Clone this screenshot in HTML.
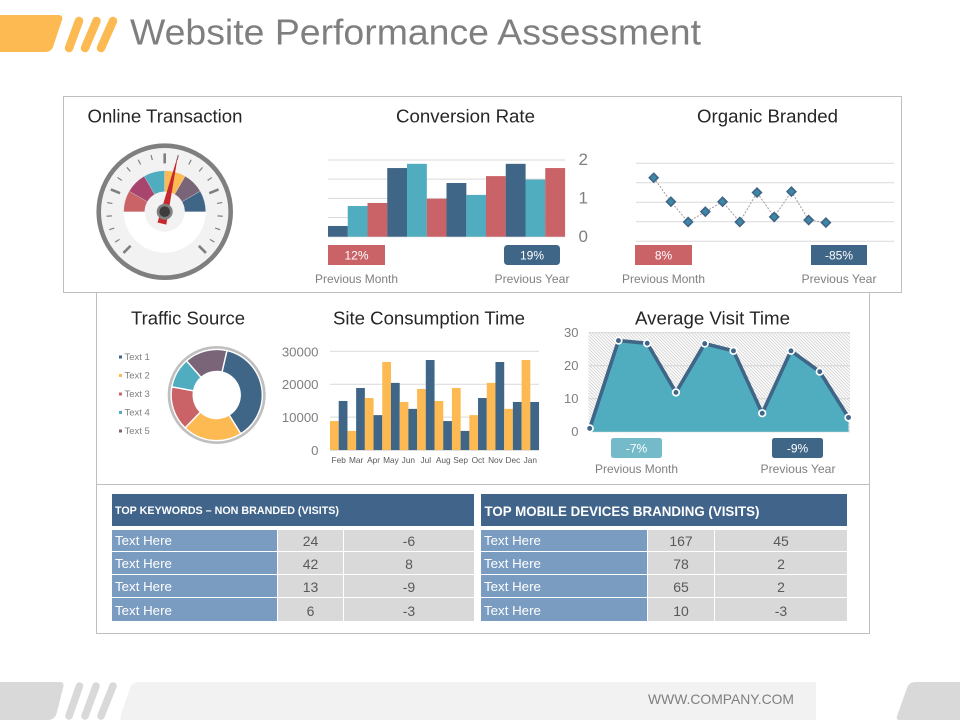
<!DOCTYPE html>
<html lang="en">
<head>
<meta charset="utf-8">
<title>Website Performance Assessment</title>
<style>
html,body{margin:0;padding:0;background:#fff;}
#page{position:relative;width:960px;height:720px;overflow:hidden;background:#fff;font-family:"Liberation Sans",sans-serif;}
#art{position:absolute;left:0;top:0;}
svg text{font-family:"Liberation Sans",sans-serif;}
table.tbl{position:absolute;top:530px;border-collapse:separate;border-spacing:0;table-layout:fixed;font-size:14px;}
table.tbl td{padding:0;background:#d9d9d9;color:#595959;text-align:center;vertical-align:top;border-right:1px solid #fff;border-bottom:1px solid #fff;box-sizing:border-box;line-height:20px;}
table.tbl td:last-child{border-right:0;}
table.tbl td.lab{background:#7a9cc0;color:#fff;text-align:left;padding-left:3px;font-size:13.3px;}
table.tbl tr.r1 td{padding-top:1px;}
table.tbl tr.r2 td,table.tbl tr.r3 td{padding-top:2px;}
table.tbl tr.r4 td{padding-top:3px;}
</style>
</head>
<body>
<div id="page">
<svg id="art" width="960" height="720" viewBox="0 0 960 720" xmlns="http://www.w3.org/2000/svg">
  <defs>
    <pattern id="hatch" width="3.2" height="3.2" patternUnits="userSpaceOnUse">
      <rect width="3.2" height="3.2" fill="#fff"/>
      <path d="M-1 -1L4.2 4.2M-1 2.2L1 4.2M2.2 -1L4.2 1" stroke="#c4c4c4" stroke-width="0.7"/>
    </pattern>
  </defs>

  <g>
    <path d="M0 15H58Q63.500 15 62 20L53 47Q51 52 45 52H0Z" fill="#fdb952"/>
    <g stroke="#fdb952" stroke-width="8.500" stroke-linecap="round">
      <line x1="79" y1="21" x2="69" y2="48"/>
      <line x1="96.500" y1="21" x2="85" y2="48"/>
      <line x1="113" y1="21" x2="101" y2="48"/>
    </g>
  </g>
  <text x="130" y="44.500" font-size="36" fill="#7f7f7f" textLength="571" lengthAdjust="spacingAndGlyphs">Website Performance Assessment</text>

  <rect x="96.500" y="292.500" width="773" height="341" fill="#fff" stroke="#bfbfbf"/>
  <rect x="63.500" y="96.500" width="838" height="196" fill="#fff" stroke="#bfbfbf"/>
  <line x1="97" y1="484.500" x2="869" y2="484.500" stroke="#bfbfbf"/>

  <g font-size="18" fill="#262626">
    <text x="87.500" y="122.500" textLength="155" lengthAdjust="spacingAndGlyphs">Online Transaction</text>
    <text x="396" y="122.500" textLength="139" lengthAdjust="spacingAndGlyphs">Conversion Rate</text>
    <text x="697" y="122.500" textLength="141" lengthAdjust="spacingAndGlyphs">Organic Branded</text>
    <text x="131" y="324.500" textLength="114" lengthAdjust="spacingAndGlyphs">Traffic Source</text>
    <text x="333" y="324.500" textLength="192" lengthAdjust="spacingAndGlyphs">Site Consumption Time</text>
    <text x="635" y="324.500" textLength="155" lengthAdjust="spacingAndGlyphs">Average Visit Time</text>
  </g>

  <g id="gauge"></g>
  <g id="conversion"></g>
  <g id="organic"></g>
  <g id="donut"></g>
  <g id="site"></g>
  <g id="area"></g>

  <g font-size="12" text-anchor="middle" fill="#fff">
    <rect x="328" y="245" width="57" height="20" fill="#c96368"/>
    <text x="356.500" y="259.500">12%</text>
    <rect x="504" y="245" width="56" height="20" rx="3.500" fill="#3f6587"/>
    <text x="532" y="259.500">19%</text>
    <rect x="635" y="245" width="57" height="20" fill="#c96368"/>
    <text x="663.500" y="259.500">8%</text>
    <rect x="811" y="245" width="56" height="20" fill="#3f6587"/>
    <text x="839" y="259.500">-85%</text>
    <rect x="611" y="438" width="51" height="20" rx="2.500" fill="#74bac9"/>
    <text x="636.500" y="452.500">-7%</text>
    <rect x="772" y="438" width="51" height="20" rx="2.500" fill="#3f6587"/>
    <text x="797.500" y="452.500">-9%</text>
  </g>
  <g font-size="12" fill="#7f7f7f">
    <text x="315" y="283" textLength="83" lengthAdjust="spacingAndGlyphs">Previous Month</text>
    <text x="494.500" y="283" textLength="75" lengthAdjust="spacingAndGlyphs">Previous Year</text>
    <text x="622" y="283" textLength="83" lengthAdjust="spacingAndGlyphs">Previous Month</text>
    <text x="801.500" y="283" textLength="75" lengthAdjust="spacingAndGlyphs">Previous Year</text>
    <text x="595" y="473" textLength="83" lengthAdjust="spacingAndGlyphs">Previous Month</text>
    <text x="760.500" y="473" textLength="75" lengthAdjust="spacingAndGlyphs">Previous Year</text>
  </g>

  <rect x="112" y="494" width="362" height="32" fill="#41648a"/>
  <text x="115" y="514" font-size="10.700" font-weight="bold" fill="#fff" textLength="224" lengthAdjust="spacingAndGlyphs">TOP KEYWORDS – NON BRANDED (VISITS)</text>
  <rect x="481" y="494" width="366" height="32" fill="#41648a"/>
  <text x="484.500" y="516" font-size="14" font-weight="bold" fill="#fff" textLength="275" lengthAdjust="spacingAndGlyphs">TOP MOBILE DEVICES BRANDING (VISITS)</text>

  <g>
    <path d="M0 682H60Q64 682 63.500 686L57 712Q55 720 48 720H0Z" fill="#d9d9d9"/>
    <g stroke="#d9d9d9" stroke-width="7.500" stroke-linecap="round">
      <line x1="79.500" y1="686" x2="69" y2="716"/>
      <line x1="96" y1="686" x2="85" y2="716"/>
      <line x1="113" y1="686" x2="101" y2="716"/>
    </g>
    <path d="M816 682V720H121Q120 720 121 714L130 688Q132 682 140 682Z" fill="#f2f2f2"/>
    <path d="M960 682V720H899Q896 720 897 716L907 688Q909 682 916 682Z" fill="#d9d9d9"/>
  </g>
  <text x="648" y="704" font-size="14" fill="#7f7f7f" textLength="146" lengthAdjust="spacingAndGlyphs">WWW.COMPANY.COM</text>
</svg>

<table class="tbl" style="left:112px;width:362px;">
  <colgroup><col style="width:166px"><col style="width:66px"><col style="width:130px"></colgroup>
  <tr class="r1" style="height:22px"><td class="lab">Text Here</td><td>24</td><td>-6</td></tr>
  <tr class="r2" style="height:23px"><td class="lab">Text Here</td><td>42</td><td>8</td></tr>
  <tr class="r3" style="height:23px"><td class="lab">Text Here</td><td>13</td><td>-9</td></tr>
  <tr class="r4" style="height:24px"><td class="lab">Text Here</td><td>6</td><td>-3</td></tr>
</table>

<table class="tbl" style="left:481px;width:366px;">
  <colgroup><col style="width:167px"><col style="width:67px"><col style="width:132px"></colgroup>
  <tr class="r1" style="height:22px"><td class="lab">Text Here</td><td>167</td><td>45</td></tr>
  <tr class="r2" style="height:23px"><td class="lab">Text Here</td><td>78</td><td>2</td></tr>
  <tr class="r3" style="height:23px"><td class="lab">Text Here</td><td>65</td><td>2</td></tr>
  <tr class="r4" style="height:24px"><td class="lab">Text Here</td><td>10</td><td>-3</td></tr>
</table>
</div>

<script>
// ---- Gauge data ----
const gaugeSegments = [1, 1, 1, 1, 1, 1];
const gaugeColors = ['#c96368', '#a8456f', '#4fadbf', '#fdb952', '#7a6478', '#3f6587'];
const gaugeNeedleValue = [54.9];
// ---- Conversion Rate data ----
const conversionValues = [0.28, 0.80, 0.88, 1.79, 1.90, 0.99, 1.40, 1.09, 1.58, 1.90, 1.49, 1.79];
const conversionColors = ['#3f6587', '#4fadbf', '#c96368'];
const conversionTicks = [0, 1, 2];
const conversionGrid = [0, 0.5, 1, 1.5, 2];
// ---- Organic Branded data ----
const organicValues = [3.26, 2.03, 0.99, 1.52, 2.03, 0.99, 2.50, 1.25, 2.55, 1.09, 0.96];
const organicGrid = [0, 1, 2, 3, 4];
// ---- Traffic Source data ----
const trafficLabels = ['Text 1', 'Text 2', 'Text 3', 'Text 4', 'Text 5'];
const trafficValues = [37.5, 21, 15.7, 10.6, 15.1];
const trafficColors = ['#3f6587', '#fdb952', '#c96368', '#4fadbf', '#7a6478'];
// ---- Site Consumption data ----
const siteMonths = ['Feb', 'Mar', 'Apr', 'May', 'Jun', 'Jul', 'Aug', 'Sep', 'Oct', 'Nov', 'Dec', 'Jan'];
const siteSeriesA = [8800, 5800, 15800, 26750, 14600, 18550, 14900, 18850, 10600, 20400, 12500, 27350];
const siteSeriesB = [14900, 18850, 10600, 20400, 12500, 27350, 8800, 5800, 15800, 26750, 14600, 14600];
const siteTicks = [0, 10000, 20000, 30000];
// ---- Average Visit Time data ----
const visitValues = [1.0, 27.6, 26.8, 11.9, 26.7, 24.5, 5.6, 24.5, 18.2, 4.3];
const visitTicks = [0, 10, 20, 30];

const SVGNS = 'http://www.w3.org/2000/svg';
function mk(tag, parent, attrs, txt) {
  const n = document.createElementNS(SVGNS, tag);
  for (const k in attrs) n.setAttribute(k, attrs[k]);
  if (txt !== undefined) n.textContent = txt;
  parent.appendChild(n);
  return n;
}
function linear(d0, d1, r0, r1) {
  return function (v) { return r0 + (v - d0) / (d1 - d0) * (r1 - r0); };
}
function polar(cx, cy, r, deg) {
  const a = deg * Math.PI / 180;
  return [cx + r * Math.sin(a), cy - r * Math.cos(a)];
}
function ringSector(cx, cy, r0, r1, a0, a1) {
  const p1 = polar(cx, cy, r1, a0), p2 = polar(cx, cy, r1, a1), p3 = polar(cx, cy, r0, a1), p4 = polar(cx, cy, r0, a0);
  const large = (a1 - a0) > 180 ? 1 : 0;
  return 'M' + p1[0] + ' ' + p1[1] + 'A' + r1 + ' ' + r1 + ' 0 ' + large + ' 1 ' + p2[0] + ' ' + p2[1] +
    'L' + p3[0] + ' ' + p3[1] + 'A' + r0 + ' ' + r0 + ' 0 ' + large + ' 0 ' + p4[0] + ' ' + p4[1] + 'Z';
}

// ---- Gauge ----
(function () {
  const g = document.getElementById('gauge');
  const cx = 164.7, cy = 211.7;
  const face = mk('circle', g, { cx: cx, cy: cy, r: 66, fill: '#f2f2f2', stroke: '#7f7f7f', 'stroke-width': 4.6 });
  
  
  const lower = mk('path', g, { d: ringSector(cx, cy, 0.01, 41, 90, 270), fill: '#fff' });
  
  
  const total = gaugeSegments.reduce(function (a, b) { return a + b; }, 0);
  const angle = linear(0, total, -90, 90);
  let acc = 0;
  gaugeSegments.forEach(function (v, i) {
    const seg = mk('path', g, { d: ringSector(cx, cy, 20, 41, angle(acc), angle(acc + v)), fill: gaugeColors[i], stroke: '#e6e6e6', 'stroke-width': 0.3 });
    
    
    acc += v;
  });
  const hubBg = mk('circle', g, { cx: cx, cy: cy, r: 20, fill: '#f2f2f2' });
  
  
  for (let i = 0; i <= 20; i++) {
    const deg = -135 + i * 13.5;
    const major = i % 5 === 0;
    const a = polar(cx, cy, 58.3, deg), b = polar(cx, cy, major ? 48.3 : 53, deg);
    const t = mk('line', g, { x1: a[0], y1: a[1], x2: b[0], y2: b[1], stroke: '#7f7f7f', 'stroke-width': major ? 2.6 : 1.2 });
    
    
  }
  const needleAngle = linear(0, 100, -135, 135)(gaugeNeedleValue[0]);
  const tip = polar(cx, cy, 58.2, needleAngle);
  const back = polar(cx, cy, 12.2, needleAngle + 180);
  const l = polar(back[0], back[1], 4.5, needleAngle - 90), r = polar(back[0], back[1], 4.5, needleAngle + 90);
  const needle = mk('polygon', g, { points: tip.join(',') + ' ' + l.join(',') + ' ' + r.join(','), fill: '#c6282d' });
  
  
  const hub = mk('circle', g, { cx: cx, cy: cy, r: 8, fill: '#808080' });
  
  
  const hubIn = mk('circle', g, { cx: cx, cy: cy, r: 5.3, fill: '#3c3c3c' });
  
  
})();

// ---- Conversion Rate ----
(function () {
  const g = document.getElementById('conversion');
  const y = linear(0, 2, 236.7, 160);
  const band = (565 - 328) / conversionValues.length;
  const x = linear(0, conversionValues.length, 328, 565);
  conversionGrid.forEach(function (t) {
    const line = mk('line', g, { x1: 328, x2: 565, y1: y(t), y2: y(t), stroke: '#d9d9d9', 'stroke-width': 1 });
    
    
  });
  conversionValues.forEach(function (v, i) {
    const bar = mk('rect', g, { x: x(i), y: y(v), width: band + 0.1, height: y(0) - y(v), fill: conversionColors[i % 3] });
    
    
  });
  conversionTicks.forEach(function (t) {
    const lab = mk('text', g, { x: 578.5, y: y(t) + 5.2, 'font-size': 17, fill: '#7f7f7f' }, String(t));
    
    
  });
})();

// ---- Organic Branded ----
(function () {
  const g = document.getElementById('organic');
  const y = linear(0, 4, 241.3, 163.3);
  const x = linear(0, organicValues.length - 1, 653.7, 825.9);
  organicGrid.forEach(function (t) {
    const line = mk('line', g, { x1: 636, x2: 894, y1: y(t), y2: y(t), stroke: '#d9d9d9', 'stroke-width': 1 });
    
    
  });
  const pts = organicValues.map(function (v, i) { return x(i) + ',' + y(v); }).join(' ');
  const path = mk('polyline', g, { points: pts, fill: 'none', stroke: '#a89a9f', 'stroke-width': 1, 'stroke-dasharray': '2 1.5' });
  
  
  organicValues.forEach(function (v, i) {
    const cx = x(i), cy = y(v), d = 4.4;
    const pt = mk('polygon', g, { points: [cx, cy - d, cx + d, cy, cx, cy + d, cx - d, cy].join(' '), fill: '#3f87a8', stroke: '#3f6587', 'stroke-width': 1.6 });
    
    
  });
})();

// ---- Traffic Source ----
(function () {
  const g = document.getElementById('donut');
  const cx = 216.7, cy = 395;
  const ring = mk('circle', g, { cx: cx, cy: cy, r: 47, fill: 'none', stroke: '#bfbfbf', 'stroke-width': 4 });
  
  
  const total = trafficValues.reduce(function (a, b) { return a + b; }, 0);
  const angle = linear(0, total, 13, 373);
  let acc = 0;
  trafficValues.forEach(function (v, i) {
    const s = mk('path', g, { d: ringSector(cx, cy, 23.5, 45.6, angle(acc), angle(acc + v)), fill: trafficColors[i], stroke: '#fff', 'stroke-width': 1.4 });
    
    
    acc += v;
  });
  const ly = linear(0, trafficLabels.length - 1, 357, 431);
  trafficLabels.forEach(function (t, i) {
    const m = mk('rect', g, { x: 119, y: ly(i) - 1.5, width: 3, height: 3, fill: trafficColors[i] });
    
    
    const lab = mk('text', g, { x: 124.5, y: ly(i) + 3, 'font-size': 9.5, fill: '#7f7f7f' }, t);
    
    
  });
})();

// ---- Site Consumption ----
(function () {
  const g = document.getElementById('site');
  const y = linear(0, 30000, 450, 351.3);
  const x = linear(0, siteMonths.length, 330, 539);
  const band = (539 - 330) / siteMonths.length;
  siteTicks.forEach(function (t) {
    const line = mk('line', g, { x1: 330, x2: 539, y1: y(t), y2: y(t), stroke: t === 0 ? '#bfbfbf' : '#d9d9d9', 'stroke-width': 1 });
    
    
    const lab = mk('text', g, { x: 318.5, y: y(t) + 5, 'font-size': 13.2, fill: '#7f7f7f', 'text-anchor': 'end' }, String(t));
    
    
  });
  siteMonths.forEach(function (m, i) {
    const a = mk('rect', g, { x: x(i), y: y(siteSeriesA[i]), width: band / 2 + 0.05, height: y(0) - y(siteSeriesA[i]), fill: '#fdb952' });
    
    
    const b = mk('rect', g, { x: x(i) + band / 2, y: y(siteSeriesB[i]), width: band / 2 + 0.05, height: y(0) - y(siteSeriesB[i]), fill: '#3f6587' });
    
    
    const lab = mk('text', g, { x: x(i) + band / 2, y: 463, 'font-size': 8.3, fill: '#595959', 'text-anchor': 'middle' }, m);
    
    
  });
})();

// ---- Average Visit Time ----
(function () {
  const g = document.getElementById('area');
  const y = linear(0, 30, 431.7, 332.7);
  const x = linear(0, visitValues.length - 1, 589.7, 848.5);
  const hatch = mk('rect', g, { x: 588.5, y: y(30), width: 261.5, height: y(0) - y(30), fill: 'url(#hatch)' });
  
  
  visitTicks.forEach(function (t) {
    const line = mk('line', g, { x1: 588.5, x2: 850, y1: y(t), y2: y(t), stroke: '#d4d4d4', 'stroke-width': 1 });
    
    
    const lab = mk('text', g, { x: 578.5, y: y(t) + 4.5, 'font-size': 13, fill: '#7f7f7f', 'text-anchor': 'end' }, String(t));
    
    
  });
  const pts = visitValues.map(function (v, i) { return x(i) + ',' + y(v); });
  const last = visitValues.length - 1;
  const fillPts = x(0) + ',' + y(0) + ' ' + pts.join(' ') + ' ' + x(last) + ',' + y(0);
  const area = mk('polygon', g, { points: fillPts, fill: '#4fadbf' });
  
  
  const line = mk('polyline', g, { points: pts.join(' '), fill: 'none', stroke: '#3f6587', 'stroke-width': 3.6 });
  
  
  visitValues.forEach(function (v, i) {
    const c = mk('circle', g, { cx: x(i), cy: y(v), r: 3.3, fill: '#3f6587', stroke: '#fff', 'stroke-width': 1.7 });
    
    
  });
})();
</script>
</body>
</html>
